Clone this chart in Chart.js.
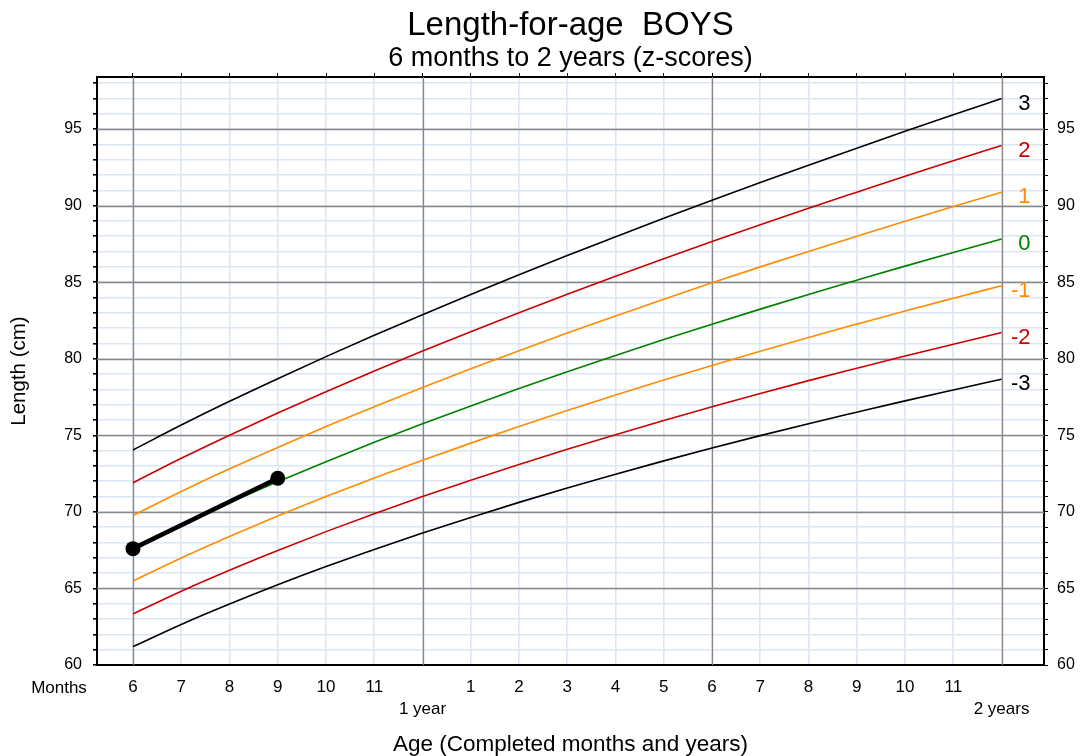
<!DOCTYPE html>
<html lang="en">
<head>
  <meta charset="UTF-8">
  <title>Length-for-age BOYS</title>
  <script src="https://cdn.jsdelivr.net/npm/chart.js"></script>
  <style>
    * { margin: 0; padding: 0; box-sizing: border-box; }
    body { background: #fff; width: 1081px; height: 756px; overflow: hidden; }
    canvas { display: block; }
  </style>
</head>
<body>
  <canvas id="lfaChart" width="1081" height="756"></canvas>

  <script>
    // WHO length-for-age, boys, 6 to 24 months (cm)
    const months = [6, 7, 8, 9, 10, 11, 12, 13, 14, 15, 16, 17, 18, 19, 20, 21, 22, 23, 24];
    const sdNeg3 = [61.20, 62.65, 63.98, 65.24, 66.43, 67.55, 68.62, 69.64, 70.62, 71.56, 72.46, 73.33, 74.17, 74.98, 75.76, 76.51, 77.25, 77.96, 78.66];
    const sdNeg2 = [63.34, 64.82, 66.19, 67.48, 68.71, 69.88, 71.00, 72.07, 73.10, 74.09, 75.04, 75.97, 76.87, 77.73, 78.57, 79.38, 80.18, 80.95, 81.71];
    const sdNeg1 = [65.48, 66.99, 68.39, 69.73, 71.00, 72.21, 73.37, 74.49, 75.57, 76.62, 77.63, 78.61, 79.56, 80.49, 81.39, 82.26, 83.12, 83.95, 84.77];
    const median = [67.62, 69.16, 70.60, 71.97, 73.28, 74.54, 75.75, 76.92, 78.05, 79.15, 80.21, 81.25, 82.26, 83.24, 84.20, 85.13, 86.05, 86.94, 87.82];
    const sdPos1 = [69.76, 71.33, 72.81, 74.21, 75.57, 76.87, 78.13, 79.35, 80.53, 81.68, 82.79, 83.89, 84.96, 86.00, 87.01, 88.00, 88.98, 89.94, 90.88];
    const sdPos2 = [71.90, 73.50, 75.01, 76.46, 77.85, 79.20, 80.50, 81.77, 83.00, 84.21, 85.38, 86.53, 87.65, 88.75, 89.83, 90.88, 91.92, 92.93, 93.93];
    const sdPos3 = [74.04, 75.67, 77.22, 78.70, 80.14, 81.53, 82.88, 84.20, 85.48, 86.74, 87.96, 89.17, 90.35, 91.51, 92.64, 93.75, 94.85, 95.93, 96.99];

    // child's measurements
    const childAge = [6, 9];
    const childLength = [67.6, 72.2];

    // axis labels
    const ageLabels = ['6', '7', '8', '9', '10', '11', ['', '1 year'],
      '1', '2', '3', '4', '5', '6', '7', '8', '9', '10', '11', ['', '2 years']];
    const lengthTicks = [];
    for (let v = 60; v <= 98; v++) lengthTicks.push(v);
    const zNames = ['3', '2', '1', '0', '-1', '-2', '-3'];

    const FONT = "'Liberation Sans', Arial, sans-serif";
    const BLACK = '#000000', RED = '#cc0000', ORANGE = '#ff8c00', GREEN = '#008000';
    const MAJOR = '#888888', MINOR = '#dce6f4';

    const xMin = 5.254, xMax = 24.88;
    const yMin = 60, yMax = 98.4;

    const isMajorX = v => v % 6 === 0;
    const isMajorY = v => v % 5 === 0;

    function curve(label, values, color) {
      return {
        label: label,
        data: months.map((m, i) => ({ x: m, y: values[i] })),
        borderColor: color,
        borderWidth: 1.6,
        pointRadius: 0,
        cubicInterpolationMode: 'monotone',
        fill: false
      };
    }

    // grey 5 cm / 6 month lines go over the light blue ones
    const majorGridPlugin = {
      id: 'majorGrid',
      beforeDatasetsDraw(chart) {
        const { ctx, chartArea: a } = chart;
        const xs = chart.scales.x, ys = chart.scales.y;
        ctx.save();
        ctx.strokeStyle = MAJOR;
        ctx.lineWidth = 1.3;
        ctx.beginPath();
        xs.ticks.forEach(t => {
          if (!isMajorX(t.value)) return;
          const px = Math.round(xs.getPixelForValue(t.value)) + 0.5;
          ctx.moveTo(px, a.top);
          ctx.lineTo(px, a.bottom);
        });
        ys.ticks.forEach(t => {
          if (!isMajorY(t.value) || t.value === yMin) return;
          const py = Math.round(ys.getPixelForValue(t.value)) + 0.5;
          ctx.moveTo(a.left, py);
          ctx.lineTo(a.right, py);
        });
        ctx.stroke();
        ctx.restore();
      }
    };

    // z-score names at the right end of each curve
    const zLabelPlugin = {
      id: 'zLabels',
      afterDatasetsDraw(chart) {
        const ctx = chart.ctx;
        const xs = chart.scales.x, ys = chart.scales.y;
        ctx.save();
        ctx.font = '22px ' + FONT;
        ctx.textAlign = 'right';
        ctx.textBaseline = 'middle';
        for (let i = 0; i < zNames.length; i++) {
          const ds = chart.data.datasets[i];
          const last = ds.data[ds.data.length - 1];
          ctx.fillStyle = ds.borderColor;
          ctx.fillText(zNames[i], xs.getPixelForValue(24) + 29, ys.getPixelForValue(last.y) + 5);
        }
        // "Months" caption left of the month ticks
        ctx.fillStyle = '#000';
        ctx.font = '17px ' + FONT;
        ctx.textAlign = 'center';
        ctx.fillText('Months', 59, 688);
        ctx.restore();
      }
    };

    const monthTicks = scale => { scale.ticks = months.map(v => ({ value: v })); };
    const cmTicks = scale => { scale.ticks = lengthTicks.map(v => ({ value: v })); };

    new Chart(document.getElementById('lfaChart'), {
      type: 'line',
      data: {
        datasets: [
          curve('+3', sdPos3, BLACK),
          curve('+2', sdPos2, RED),
          curve('+1', sdPos1, ORANGE),
          curve('0', median, GREEN),
          curve('-1', sdNeg1, ORANGE),
          curve('-2', sdNeg2, RED),
          curve('-3', sdNeg3, BLACK),
          {
            label: 'Child',
            data: childAge.map((a, i) => ({ x: a, y: childLength[i] })),
            borderColor: BLACK,
            backgroundColor: BLACK,
            borderWidth: 4.5,
            pointRadius: 7.5,
            pointBorderWidth: 0,
            tension: 0,
            order: -1,
            clip: false
          }
        ]
      },
      options: {
        responsive: false,
        animation: false,
        devicePixelRatio: 1,
        layout: { padding: 0 },
        plugins: {
          legend: { display: false },
          tooltip: { enabled: false },
          title: {
            display: true,
            fullSize: false,
            text: 'Length-for-age  BOYS',
            color: '#000',
            font: { family: FONT, size: 33, weight: 'normal', lineHeight: 1.0 },
            padding: { top: 9, bottom: 0 }
          },
          subtitle: {
            display: true,
            fullSize: false,
            text: '6 months to 2 years (z-scores)',
            color: '#000',
            font: { family: FONT, size: 27, weight: 'normal', lineHeight: 1.0 },
            padding: { top: 3, bottom: 0 }
          }
        },
        scales: {
          x: {
            type: 'linear',
            position: 'bottom',
            min: xMin,
            max: xMax,
            afterBuildTicks: monthTicks,
            afterFit: s => { s.height = 91; },
            ticks: {
              autoSkip: false,
              maxRotation: 0,
              padding: 11,
              color: '#000',
              font: { family: FONT, size: 17, lineHeight: 1.31 },
              callback: (v) => ageLabels[months.indexOf(v)]
            },
            grid: {
              drawTicks: false,
              lineWidth: 1.6,
              color: MINOR
            },
            border: { color: '#000', width: 2 },
            title: {
              display: true,
              text: 'Age (Completed months and years)',
              color: '#000',
              font: { family: FONT, size: 22.5, lineHeight: 1.0 },
              padding: { top: 0, bottom: 0 }
            }
          },
          xTop: {
            type: 'linear',
            position: 'top',
            min: xMin,
            max: xMax,
            afterBuildTicks: monthTicks,
            afterFit: s => { s.height = 77 - (9 + 33) - (3 + 27); },
            ticks: { display: false },
            grid: { drawOnChartArea: false, tickLength: 4, tickColor: '#000' },
            border: { color: '#000', width: 2 }
          },
          y: {
            type: 'linear',
            position: 'left',
            min: yMin,
            max: yMax,
            afterBuildTicks: cmTicks,
            afterFit: s => { s.width = 97; },
            ticks: {
              autoSkip: false,
              padding: 11,
              color: '#000',
              font: { family: FONT, size: 16 },
              callback: v => (isMajorY(v) ? String(v) : '')
            },
            grid: {
              tickLength: 4,
              tickColor: '#000',
              lineWidth: 1.6,
              color: MINOR
            },
            border: { color: '#000', width: 2 },
            title: {
              display: true,
              text: 'Length (cm)',
              color: '#000',
              font: { family: FONT, size: 20.5, lineHeight: 1.0 },
              padding: { top: 9, bottom: 0 }
            }
          },
          yRight: {
            type: 'linear',
            position: 'right',
            min: yMin,
            max: yMax,
            afterBuildTicks: cmTicks,
            afterFit: s => { s.width = 37; },
            ticks: {
              autoSkip: false,
              padding: 9,
              color: '#000',
              font: { family: FONT, size: 16 },
              callback: v => (isMajorY(v) ? String(v) : '')
            },
            grid: { drawOnChartArea: false, tickLength: 4, tickColor: '#000' },
            border: { color: '#000', width: 2 }
          }
        }
      },
      plugins: [majorGridPlugin, zLabelPlugin]
    });
  </script>
</body>
</html>
